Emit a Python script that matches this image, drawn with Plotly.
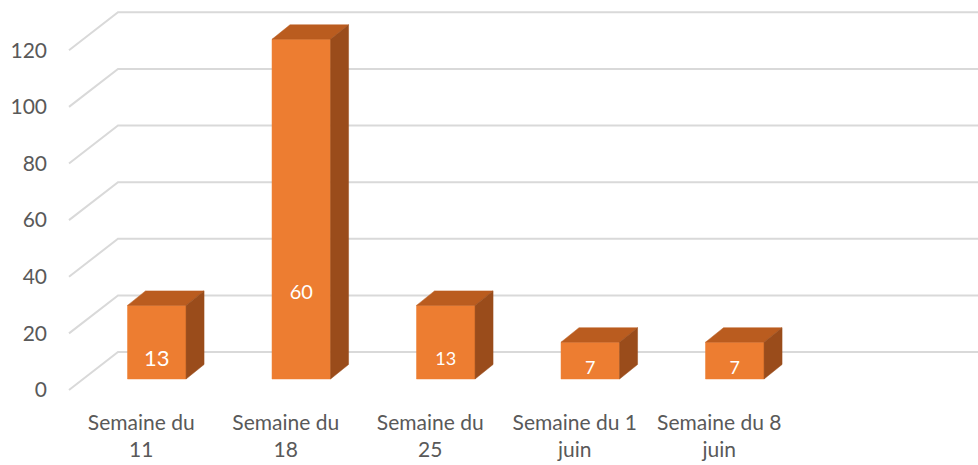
import plotly.graph_objects as go

# ---- data ----
categories = ["Semaine du<br>11", "Semaine du<br>18", "Semaine du<br>25",
              "Semaine du 1<br>juin", "Semaine du 8<br>juin"]
series_labelled = [13, 60, 13, 7, 7]      # lower stacked segment (labelled)
series_upper = [13, 60, 13, 6, 6]         # upper stacked segment (same colour)
y_ticks = [0, 20, 40, 60, 80, 100, 120]
n_slots = 6                               # category slots on the floor (last one empty)

# ---- styling / geometry (pixel-derived projection) ----
W, H = 978, 465
L_M, R_M, T_M, B_M = 60, 0, 5, 65
PX_PER_CAT = 144.5
X0_PX = 69                    # pixel of front-left floor corner
Y0_PX = 390                   # pixel of front zero line
plot_w = W - L_M - R_M
plot_h = H - T_M - B_M
x_min = (L_M - X0_PX) / PX_PER_CAT
x_max = x_min + plot_w / PX_PER_CAT
y_bottom_px = H - B_M
PX_PER_UNIT = 2.831
y_min = -(y_bottom_px - Y0_PX) / PX_PER_UNIT
y_max = y_min + plot_h / PX_PER_UNIT

def dx(px):
    return px / PX_PER_CAT

def dy(px):
    return px / PX_PER_UNIT

FLOOR_DX, FLOOR_DY = dx(49), dy(38)       # full depth of the floor
BAR_OFF_DX, BAR_OFF_DY = dx(14), dy(11)   # front face of the bars sits this deep
BAR_D_DX, BAR_D_DY = dx(18), dy(14.5)     # depth of a bar
BAR_LEFT = 0.405
BAR_W = 0.405

FRONT = "#ED7D31"
TOP = "#BA5C1F"
SIDE = "#9A4C1B"
GRID = "#D9D9D9"
TEXT = "#595959"
FONT = "Lato"
label_sizes = [22, 20, 18, 18, 18]

fig = go.Figure()

# gridlines: left wall diagonals + back wall horizontals
for v in y_ticks:
    fig.add_trace(go.Scatter(
        x=[0, FLOOR_DX, n_slots + FLOOR_DX],
        y=[v, v + FLOOR_DY, v + FLOOR_DY],
        mode="lines", line=dict(color=GRID, width=2),
        hoverinfo="skip", showlegend=False))

def poly(xs, ys, color):
    fig.add_trace(go.Scatter(
        x=xs + [xs[0]], y=ys + [ys[0]], mode="lines", fill="toself",
        fillcolor=color, line=dict(color=color, width=0.5),
        hoverinfo="skip", showlegend=False))

for i, (a, b) in enumerate(zip(series_labelled, series_upper)):
    total = a + b
    xl = i + BAR_LEFT
    xr = xl + BAR_W
    yb = BAR_OFF_DY
    yt = yb + total
    # front
    poly([xl, xr, xr, xl], [yb, yb, yt, yt], FRONT)
    # top
    poly([xl, xr, xr + BAR_D_DX, xl + BAR_D_DX],
         [yt, yt, yt + BAR_D_DY, yt + BAR_D_DY], TOP)
    # side
    poly([xr, xr + BAR_D_DX, xr + BAR_D_DX, xr],
         [yb, yb + BAR_D_DY, yt + BAR_D_DY, yt], SIDE)

# data labels for the lower segment
fig.add_trace(go.Scatter(
    x=[i + BAR_LEFT + BAR_W / 2 for i in range(len(series_labelled))],
    y=[BAR_OFF_DY + a / 2 for a in series_labelled],
    mode="text", text=[str(a) for a in series_labelled],
    textfont=dict(family=FONT, size=label_sizes, color="white"),
    textposition="middle center", hoverinfo="skip", showlegend=False))

fig.update_layout(
    width=W, height=H,
    margin=dict(l=L_M, r=R_M, t=T_M, b=B_M, autoexpand=False),
    paper_bgcolor="white", plot_bgcolor="white",
    font=dict(family=FONT, color=TEXT),
    hovermode=False,
    xaxis=dict(range=[x_min, x_max], showgrid=False, zeroline=False,
               showline=False, tickmode="array", automargin=False,
               tickvals=[i + 0.5 for i in range(len(categories))],
               ticktext=categories, tickfont=dict(size=21, color=TEXT),
               ticks="", ticklabelstandoff=8),
    yaxis=dict(range=[y_min, y_max], showgrid=False, zeroline=False,
               showline=False, tickmode="array", tickvals=y_ticks,
               automargin=False,
               ticktext=[str(v) for v in y_ticks],
               tickfont=dict(size=21, color=TEXT), ticks="",
               ticklabelstandoff=12),
)

fig.write_html("out.html",
               config={"displayModeBar": False},
               post_script="document.body.style.margin='0';document.body.style.overflow='hidden';")
